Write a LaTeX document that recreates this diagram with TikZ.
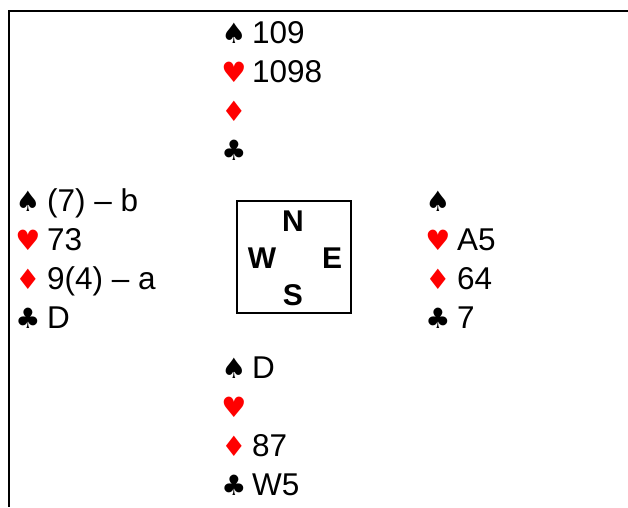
\documentclass[tikz,border=0pt]{standalone}
\usepackage{fontspec}
\setmainfont{Liberation Sans}
\newfontfamily\suitfont{DejaVu Sans}
\tikzset{
  x=1pt,y=-1pt,
  cardtxt/.style={anchor=base west,inner sep=0pt,font=\fontsize{31.5}{33}\selectfont},
  suitblk/.style={anchor=base,inner sep=0pt,font=\suitfont\fontsize{28}{30}\selectfont,text=black},
  suitred/.style={suitblk,text=red},
  dirtxt/.style={inner sep=0pt,font=\bfseries\fontsize{30}{32}\selectfont},
  frameline/.style={line width=1.5pt}
}
\begin{document}
\begin{tikzpicture}
\useasboundingbox (0,0) rectangle (628,507);
\draw[frameline] (628,11) -- (9,11) -- (9,507);
% North
\node[suitblk] (ns) at (234,43) {♠}; \node[cardtxt] (nst) at (252,43) {109};
\node[suitred] (nh) at (234,82) {♥}; \node[cardtxt] (nht) at (252,82) {1098};
\node[suitred] (nd) at (234,121) {♦};
\node[suitblk] (nc) at (234,160) {♣};
% West
\node[suitblk] (ws) at (28,211) {♠}; \node[cardtxt] (wst) at (47,211) {(7) – b};
\node[suitred] (wh) at (28,250) {♥}; \node[cardtxt] (wht) at (47,250) {73};
\node[suitred] (wd) at (28,289) {♦}; \node[cardtxt] (wdt) at (47,289) {9(4) – a};
\node[suitblk] (wc) at (28,328) {♣}; \node[cardtxt] (wct) at (47,328) {D};
% East
\node[suitblk] (es) at (438,211) {♠};
\node[suitred] (eh) at (438,250) {♥}; \node[cardtxt] (eht) at (457,250) {A5};
\node[suitred] (ed) at (438,289) {♦}; \node[cardtxt] (edt) at (457,289) {64};
\node[suitblk] (ec) at (438,328) {♣}; \node[cardtxt] (ect) at (457,328) {7};
% South
\node[suitblk] (ss) at (234,378) {♠}; \node[cardtxt] (sst) at (252,378) {D};
\node[suitred] (sh) at (234,417) {♥};
\node[suitred] (sd) at (234,456) {♦}; \node[cardtxt] (sdt) at (252,456) {87};
\node[suitblk] (sc) at (234,495) {♣}; \node[cardtxt] (sct) at (252,495) {W5};
% Compass
\draw[line width=1.5pt] (237,201) rectangle (351,313);
\node[dirtxt] (cn) at (293,221) {N};
\node[dirtxt] (cw) at (262,258) {W};
\node[dirtxt] (ce) at (332,258) {E};
\node[dirtxt] (cs) at (293,295) {S};
\end{tikzpicture}
\end{document}
